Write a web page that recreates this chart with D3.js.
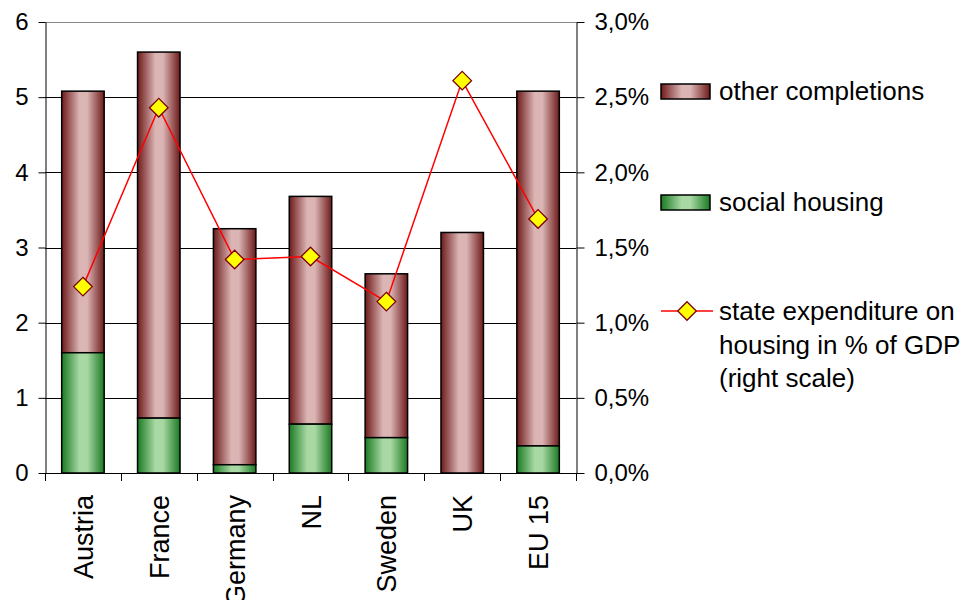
<!DOCTYPE html>
<html>
<head>
<meta charset="utf-8">
<script src="https://cdn.jsdelivr.net/npm/d3@7"></script>
<style>
  body { margin: 0; background: #fff; }
  text { font-family: Arial, "Liberation Sans", sans-serif; fill: #000; }
</style>
</head>
<body>
<svg width="972" height="600"></svg>
<script>
// data
var countries = ["Austria", "France", "Germany", "NL", "Sweden", "UK", "EU 15"];
var socialHousing = [1.6, 0.73, 0.11, 0.65, 0.47, 0, 0.36];
var totalCompletions = [5.08, 5.6, 3.25, 3.68, 2.65, 3.2, 5.08];
var stateExpenditure = [1.24, 2.43, 1.42, 1.44, 1.14, 2.61, 1.69]; // % of GDP
var leftTicks = [0, 1, 2, 3, 4, 5, 6];
var rightTicks = [0, 0.5, 1, 1.5, 2, 2.5, 3];

var svg = d3.select("svg");
var plotL = 45, plotR = 576, plotT = 22, plotB = 473;

var x = d3.scaleBand().domain(countries).range([plotL, plotR]).paddingInner(0.44).paddingOuter(0.22);
var y = d3.scaleLinear().domain([0, 6]).range([plotB, plotT]);
var y2 = d3.scaleLinear().domain([0, 3]).range([plotB, plotT]);

// gradients
var defs = svg.append("defs");
function grad(id, dark, light) {
  var g = defs.append("linearGradient").attr("id", id)
    .attr("x1", "0%").attr("x2", "100%").attr("y1", "0%").attr("y2", "0%");
  g.append("stop").attr("offset", "0%").attr("stop-color", dark);
  g.append("stop").attr("offset", "42%").attr("stop-color", light);
  g.append("stop").attr("offset", "60%").attr("stop-color", light);
  g.append("stop").attr("offset", "100%").attr("stop-color", dark);
}
grad("gRed", "#6e1a1a", "#dbb4b4");
grad("gGreen", "#1a7a22", "#a8d8a4");

// gridlines
svg.append("g").selectAll("line")
  .data(leftTicks.slice(1))
  .enter().append("line")
  .attr("x1", plotL).attr("x2", plotR)
  .attr("y1", function(d) { return Math.round(y(d)) + 0.5; })
  .attr("y2", function(d) { return Math.round(y(d)) + 0.5; })
  .attr("stroke", function(d) { return d == 6 ? "#888" : "#000"; })
  .attr("stroke-width", 1);

// bars
var bars = svg.append("g");
bars.selectAll("rect.other")
  .data(countries)
  .enter().append("rect")
  .attr("class", "other")
  .attr("x", function(d) { return x(d); })
  .attr("width", x.bandwidth())
  .attr("y", function(d, i) { return y(totalCompletions[i]); })
  .attr("height", function(d, i) { return y(socialHousing[i]) - y(totalCompletions[i]); })
  .attr("fill", "url(#gRed)")
  .attr("stroke", "#000").attr("stroke-width", 1.5);

bars.selectAll("rect.social")
  .data(countries.filter(function(d, i) { return socialHousing[i] > 0; }))
  .enter().append("rect")
  .attr("class", "social")
  .attr("x", function(d) { return x(d); })
  .attr("width", x.bandwidth())
  .attr("y", function(d) { return y(socialHousing[countries.indexOf(d)]); })
  .attr("height", function(d) { return y(0) - y(socialHousing[countries.indexOf(d)]); })
  .attr("fill", "url(#gGreen)")
  .attr("stroke", "#000").attr("stroke-width", 1.5);

// axes
var leftAxis = svg.append("g")
  .attr("transform", "translate(" + (plotL + 0.5) + ",0)")
  .call(d3.axisLeft(y).tickValues(leftTicks).tickSize(7).tickSizeOuter(0).tickPadding(10).tickFormat(d3.format("d")));
var rightAxis = svg.append("g")
  .attr("transform", "translate(" + (plotR + 0.5) + ",0)")
  .call(d3.axisRight(y2).tickValues(rightTicks).tickSize(8).tickSizeOuter(0).tickPadding(10)
    .tickFormat(function(d) { return d.toFixed(1).replace(".", ",") + "%"; }));
[leftAxis, rightAxis].forEach(function(a) {
  a.select(".domain").attr("stroke", "#000");
  a.selectAll(".tick line").attr("stroke", "#000");
  a.selectAll("text").style("font-size", "24px").attr("fill", "#000");
});

// x axis: baseline and separators between categories
var xg = svg.append("g");
xg.append("line").attr("x1", plotL).attr("x2", plotR)
  .attr("y1", plotB + 0.5).attr("y2", plotB + 0.5).attr("stroke", "#000");
var seps = d3.range(countries.length + 1).map(function(i) { return plotL + i * x.step(); });
xg.selectAll("line.sep").data(seps).enter().append("line")
  .attr("class", "sep")
  .attr("x1", function(d) { return Math.round(d) + 0.5; }).attr("x2", function(d) { return Math.round(d) + 0.5; })
  .attr("y1", plotB).attr("y2", plotB + 8)
  .attr("stroke", "#000");
xg.selectAll("text").data(countries).enter().append("text")
  .attr("transform", function(d) { return "translate(" + (x(d) + x.bandwidth() / 2 + 10) + "," + (plotB + 22) + ") rotate(-90)"; })
  .attr("text-anchor", "end")
  .style("font-size", "27px")
  .text(function(d) { return d; });

// line series on right scale
var line = d3.line()
  .x(function(d, i) { return x(countries[i]) + x.bandwidth() / 2; })
  .y(function(d) { return y2(d); });
svg.append("path").datum(stateExpenditure)
  .attr("d", line).attr("fill", "none").attr("stroke", "#ff0000").attr("stroke-width", 1.5);

var diamond = d3.symbol().type(d3.symbolDiamond2).size(220);
svg.append("g").selectAll("path")
  .data(stateExpenditure)
  .enter().append("path")
  .attr("d", diamond)
  .attr("transform", function(d, i) { return "translate(" + (x(countries[i]) + x.bandwidth() / 2) + "," + y2(d) + ")"; })
  .attr("fill", "#ffff00").attr("stroke", "#7a0000").attr("stroke-width", 1.3);

// legend
var legend = svg.append("g");
legend.append("rect").attr("x", 661).attr("y", 84).attr("width", 49).attr("height", 15)
  .attr("fill", "url(#gRed)").attr("stroke", "#000").attr("stroke-width", 1.5);
legend.append("text").attr("x", 719).attr("y", 100).style("font-size", "26px").text("other completions");
legend.append("rect").attr("x", 661).attr("y", 195).attr("width", 49).attr("height", 15)
  .attr("fill", "url(#gGreen)").attr("stroke", "#000").attr("stroke-width", 1.5);
legend.append("text").attr("x", 719).attr("y", 211).style("font-size", "26px").text("social housing");
legend.append("line").attr("x1", 661).attr("x2", 713).attr("y1", 311).attr("y2", 311)
  .attr("stroke", "#ff0000").attr("stroke-width", 1.5);
legend.append("path").attr("d", diamond)
  .attr("transform", "translate(687,311)")
  .attr("fill", "#ffff00").attr("stroke", "#7a0000").attr("stroke-width", 1.3);
var lt = legend.append("text").style("font-size", "26px");
["state expenditure on", "housing in % of GDP", "(right scale)"].forEach(function(s, i) {
  lt.append("tspan").attr("x", 719).attr("y", 320 + i * 33.5).text(s);
});
</script>
</body>
</html>
